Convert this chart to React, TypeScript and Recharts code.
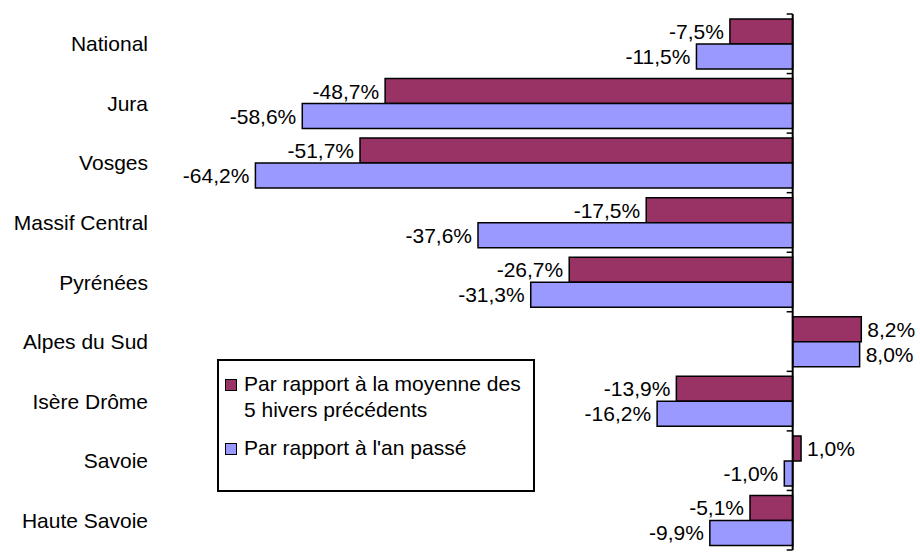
import { BarChart, Bar, XAxis, YAxis, Legend, LabelList, ReferenceLine } from 'recharts';

const categories = [
  'National',
  'Jura',
  'Vosges',
  'Massif Central',
  'Pyrénées',
  'Alpes du Sud',
  'Isère Drôme',
  'Savoie',
  'Haute Savoie',
];
const vsFiveWinters = [-7.5, -48.7, -51.7, -17.5, -26.7, 8.2, -13.9, 1.0, -5.1];
const vsLastYear = [-11.5, -58.6, -64.2, -37.6, -31.3, 8.0, -16.2, -1.0, -9.9];

const SERIES = [
  { key: 'moy', name: 'Par rapport à la moyenne des 5 hivers précédents', color: '#993366' },
  { key: 'an', name: "Par rapport à l'an passé", color: '#9999FF' },
];

const FONT = '"Liberation Sans", Arial, sans-serif';

const data = categories.map((name, i) => ({
  name,
  moy: vsFiveWinters[i],
  an: vsLastYear[i],
}));

const fmt = (v: number) => `${v.toFixed(1).replace('.', ',')}%`;

// label outside the bar end, left for negatives, right for positives
function ValueLabel(props: any) {
  const { x, y, width, height, value } = props;
  const left = Math.min(x, x + width);
  const right = Math.max(x, x + width);
  const neg = value < 0;
  return (
    <text
      x={neg ? left - 6 : right + 6}
      y={y + height / 2}
      textAnchor={neg ? 'end' : 'start'}
      dominantBaseline="central"
      fontSize={21}
      fontFamily={FONT}
      fill="#000"
    >
      {fmt(value)}
    </text>
  );
}

function CategoryTick({ y, payload }: any) {
  return (
    <text x={148} y={y} textAnchor="end" dominantBaseline="central" fontSize={21} fontFamily={FONT} fill="#000">
      {payload.value}
    </text>
  );
}

// zero axis with small ticks at category boundaries
function ZeroAxis(props: any) {
  const { x1, y1, y2 } = props;
  const step = (y2 - y1) / categories.length;
  return (
    <g>
      <line x1={x1} y1={y1} x2={x1} y2={y2} stroke="#000" strokeWidth={2} />
      {Array.from({ length: categories.length + 1 }, (_, i) => (
        <line key={i} x1={x1 - 6} y1={y1 + i * step} x2={x1} y2={y1 + i * step} stroke="#000" strokeWidth={1.5} />
      ))}
    </g>
  );
}

function LegendBox() {
  return (
    <div
      style={{
        boxSizing: 'border-box',
        width: 318,
        height: 133,
        border: '2px solid #000',
        background: '#fff',
        fontFamily: FONT,
        fontSize: 21,
        color: '#000',
        padding: '10px 0 0 6px',
      }}
    >
      {SERIES.map((s) => (
        <div key={s.key} style={{ display: 'flex', alignItems: 'flex-start', marginBottom: 12, lineHeight: '26px' }}>
          <span
            style={{
              display: 'inline-block',
              width: 10,
              height: 10,
              background: s.color,
              border: '1.5px solid #000',
              marginTop: 8,
              marginRight: 7,
              flexShrink: 0,
            }}
          />
          <span style={{ width: 288 }}>{s.name}</span>
        </div>
      ))}
    </div>
  );
}

export default function App() {
  return (
    <div style={{ position: 'absolute', left: 0, top: 0, background: '#fff' }}>
      <BarChart
        width={920}
        height={552}
        data={data}
        layout="vertical"
        margin={{ top: 14, right: 52, left: 0, bottom: 2 }}
        barGap={0}
        barSize={25}
      >
        <XAxis type="number" domain={[-75.6, 9]} hide />
        <YAxis
          type="category"
          dataKey="name"
          width={160}
          axisLine={false}
          tickLine={false}
          tick={<CategoryTick />}
        />
        <Legend
          layout="vertical"
          align="center"
          verticalAlign="middle"
          content={<LegendBox />}
          wrapperStyle={{ left: 217, top: 359, width: 318, height: 133 }}
        />
        {SERIES.map((s) => (
          <Bar key={s.key} dataKey={s.key} name={s.name} fill={s.color} stroke="#000" strokeWidth={1.5} isAnimationActive={false}>
            <LabelList dataKey={s.key} content={<ValueLabel />} />
          </Bar>
        ))}
        <ReferenceLine x={0} shape={<ZeroAxis />} />
      </BarChart>
    </div>
  );
}
